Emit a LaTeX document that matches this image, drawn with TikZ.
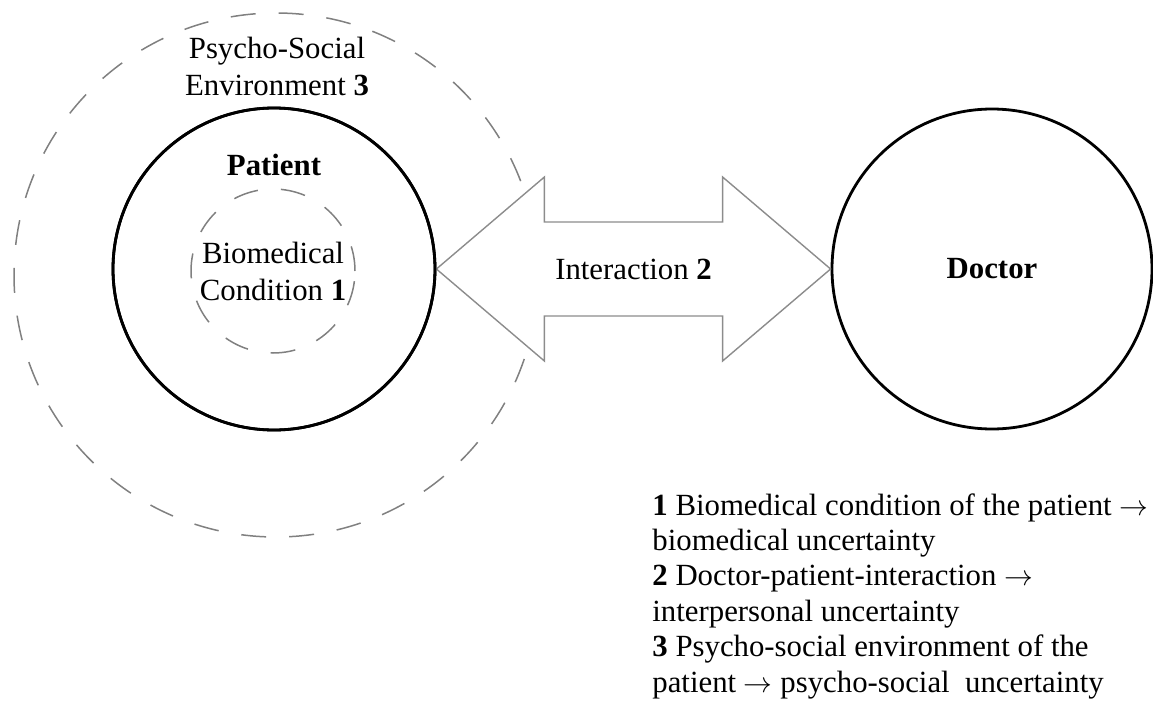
\documentclass[tikz,border=0pt]{standalone}
\usepackage{fontspec}
\setmainfont{Liberation Serif}
\usetikzlibrary{calc,positioning}
\begin{document}
\begin{tikzpicture}[x=0.5pt,y=-0.5pt,
  txt/.style={font=\fontsize{15.4}{18.5}\selectfont, align=center, inner sep=0pt},
  ring/.style={circle, draw, line width=1.4pt, inner sep=0pt},
  dashring/.style={circle, draw=black!50, line width=0.75pt, dash pattern=on 12.5pt off 11.5pt, inner sep=0pt},
  bigarrow/.style={draw=black!45, line width=0.7pt, fill=white, line join=miter}]
\useasboundingbox (0,0) rectangle (1153,702);
% environment, patient and biomedical condition
\node[dashring, minimum size=262pt] (env) at (276,275) {};
\node[txt] (envlabel) at (277,66) {Psycho-Social\\Environment \textbf{3}};
\node[ring, minimum size=161pt] (patient) at (274,269) {};
\node[ring, minimum size=160pt, txt, font=\fontsize{15.4}{18.5}\selectfont\bfseries] (doctor) at (992,269) {Doctor};
\draw[bigarrow] (patient.east) -- ++(108,-92) -- ++(0,45)
  -- ($(doctor.west)+(-108,-47)$) -- ++(0,-45) -- (doctor.west)
  -- ++(-108,92) -- ++(0,-45) -- ($(patient.east)+(108,47)$)
  -- ++(0,45) -- cycle;
\node[ring, minimum size=161pt] at (patient) {};
\node[txt] (interaction) at ($(patient.east)!0.5!(doctor.west)$) {Interaction \textbf{2}};
\node[txt, font=\fontsize{15.4}{18.5}\selectfont\bfseries] (patientlabel) at (274,165) {Patient};
\node[dashring, minimum size=82pt, txt] (bio) at (273,271) {Biomedical\\Condition \textbf{1}};
% legend
\node[txt, align=left, anchor=north west, font=\fontsize{15.4}{17.7}\selectfont] (legend) at (652,493)
  {\textbf{1} Biomedical condition of the patient $\rightarrow$\\
   biomedical uncertainty\\
   \textbf{2} Doctor-patient-interaction $\rightarrow$\\
   interpersonal uncertainty\\
   \textbf{3} Psycho-social environment of the\\
   patient $\rightarrow$ psycho-social\ \ uncertainty};
\end{tikzpicture}
\end{document}
